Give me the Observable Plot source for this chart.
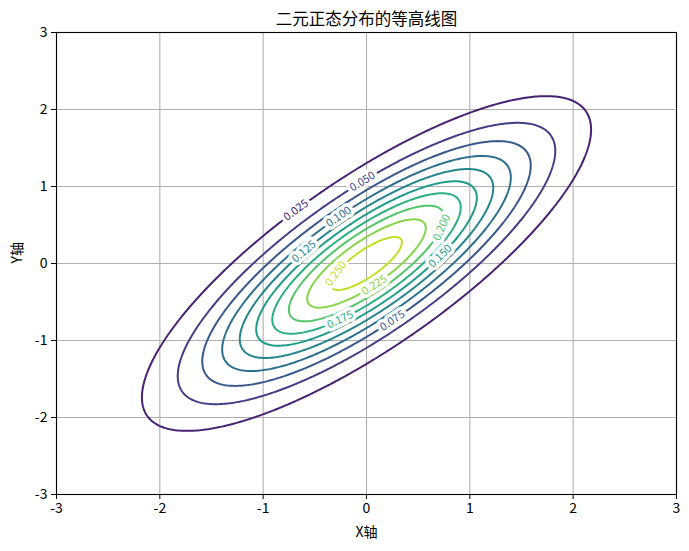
<!DOCTYPE html>
<html><head><meta charset="utf-8">
<script src="https://cdn.jsdelivr.net/npm/d3@7"></script>
<script src="https://cdn.jsdelivr.net/npm/@observablehq/plot@0.6"></script>
<style>body{margin:0;background:#fff}</style>
</head><body><div id="chart"></div>
<script>
const title = "二元正态分布的等高线图";
const xLabel = "X轴", yLabel = "Y轴";
// distribution parameters
const muX = 0, muY = 0, sigmaX = 1, sigmaY = 1, rho = 0.8;
const levels = [0.025, 0.05, 0.075, 0.1, 0.125, 0.15, 0.175, 0.2, 0.225, 0.25];
const ticks = [-3, -2, -1, 0, 1, 2, 3];
// approximate contour-label anchor points
const labelLevels = [0.025, 0.05, 0.075, 0.1, 0.125, 0.15, 0.175, 0.2, 0.225, 0.25];
const labelX = [-0.70, -0.04, 0.25, -0.28, -0.66, 0.60, -0.22, 0.70, 0.07, -0.36];
const labelY = [0.71, 1.09, -0.74, 0.63, 0.17, 0.08, -0.63, 0.45, -0.26, -0.16];

const W = 689, H = 551, mL = 56, mR = 13, mT = 32, mB = 57;
const kx = (W - mL - mR) / 6, ky = (H - mT - mB) / 6;
const peak = 1 / (2 * Math.PI * sigmaX * sigmaY * Math.sqrt(1 - rho * rho));
function Q(x, y) { const u = (x - muX) / sigmaX, v = (y - muY) / sigmaY; return (u * u - 2 * rho * u * v + v * v) / (1 - rho * rho); }
function density(x, y) { return peak * Math.exp(-Q(x, y) / 2); }

const labels = labelLevels.map((lv, i) => {
  const ax = labelX[i] - muX, ay = labelY[i] - muY;
  const c = -2 * Math.log(lv / peak);
  const r = Math.sqrt(c / Q(ax + muX, ay + muY));
  const x = muX + ax * r, y = muY + ay * r;
  const u = (x - muX) / sigmaX, v = (y - muY) / sigmaY;
  const gx = (u - rho * v) / sigmaX, gy = (v - rho * u) / sigmaY;
  const tx = -gy, ty = gx;
  let ang = Math.atan2(-ty * ky, tx * kx) * 180 / Math.PI;
  if (ang > 90) ang -= 180; if (ang < -90) ang += 180;
  return {level: lv, x, y, angle: ang, text: lv.toFixed(3)};
});

const plot = Plot.plot({
  width: W, height: H, marginLeft: mL, marginRight: mR, marginTop: mT, marginBottom: mB,
  style: {fontFamily: "'Noto Sans CJK SC', 'Noto Sans', sans-serif", fontSize: "14px", background: "white", color: "black"},
  x: {domain: [-3, 3], label: null},
  y: {domain: [-3, 3], label: null},
  color: {type: "linear", scheme: "viridis", domain: [0, 0.275]},
  marks: [
    Plot.gridX(ticks, {stroke: "#b0b0b0", strokeOpacity: 1, strokeWidth: 1.1}),
    Plot.gridY(ticks, {stroke: "#b0b0b0", strokeOpacity: 1, strokeWidth: 1.1}),
    Plot.contour({value: density, x1: -3, x2: 3, y1: -3, y2: 3, thresholds: levels, stroke: "value", fill: "none", strokeWidth: 2}),
    Plot.text(labels, {x: "x", y: "y", text: "text", rotate: "angle", fill: "level", stroke: "white", strokeWidth: 7, paintOrder: "stroke", fontSize: 11}),
    Plot.frame({stroke: "black", strokeWidth: 1.1}),
    Plot.axisX(ticks, {tickSize: 5, tickPadding: 4, fontSize: 14, label: null, tickFormat: d => String(d)}),
    Plot.axisY(ticks, {tickSize: 5, tickPadding: 4, fontSize: 14, label: null, tickFormat: d => String(d)}),
    Plot.text([title], {frameAnchor: "top", lineAnchor: "middle", dy: -13, fontSize: 16.5}),
    Plot.text([xLabel], {frameAnchor: "bottom", lineAnchor: "middle", dy: 38, fontSize: 14}),
    Plot.text([yLabel], {frameAnchor: "left", dx: -39, rotate: -90, fontSize: 14})
  ]
});
document.getElementById("chart").append(plot);
</script>
</body></html>
